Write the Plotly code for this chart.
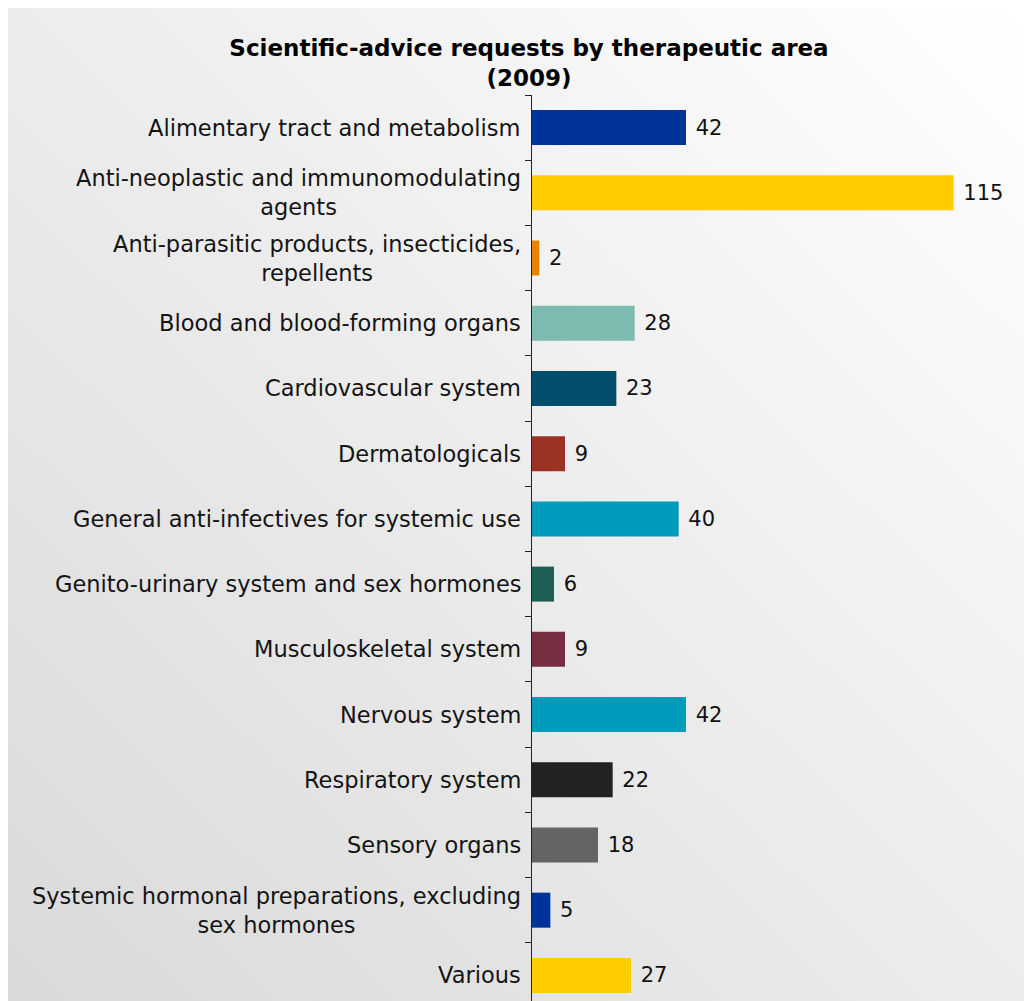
import base64
import plotly.graph_objects as go

categories = [
    "Alimentary tract and metabolism",
    "Anti-neoplastic and immunomodulating<br>agents",
    "Anti-parasitic products, insecticides,<br>repellents",
    "Blood and blood-forming organs",
    "Cardiovascular system",
    "Dermatologicals",
    "General anti-infectives for systemic use",
    "Genito-urinary system and sex hormones",
    "Musculoskeletal system",
    "Nervous system",
    "Respiratory system",
    "Sensory organs",
    "Systemic hormonal preparations, excluding<br>sex hormones",
    "Various",
]
values = [42, 115, 2, 28, 23, 9, 40, 6, 9, 42, 22, 18, 5, 27]
colors = [
    "#003399", "#FFCC00", "#E98300", "#7EBAB0", "#004E6C", "#9A3324", "#009CBC",
    "#1D5F55", "#752F40", "#009CBC", "#222222", "#646464", "#003399", "#FFCC00",
]
title_text = "Scientific-advice requests by therapeutic area<br>(2009)"

ids = list(range(len(categories)))

W, H = 1032, 1001
ML, MR, MT, MB = 524, 13, 87, 1
pw, ph = W - ML - MR, H - MT - MB

fig = go.Figure()
fig.add_trace(go.Bar(
    x=values, y=ids, orientation="h",
    marker=dict(color=colors, line=dict(width=0)),
    text=[str(v) for v in values], textposition="outside",
    texttemplate=" %{text}",
    textfont=dict(family="DejaVu Sans", size=21, color="#111111"),
    cliponaxis=False, hoverinfo="skip",
))

for i, c in enumerate(categories):
    fig.add_annotation(
        x=0, xref="paper", y=i, yref="y", text=c, showarrow=False,
        xanchor="right", yanchor="middle", align="center", xshift=-9,
        font=dict(family="DejaVu Sans", size=22.5, color="#141414"),
    )

svg = ('<svg xmlns="http://www.w3.org/2000/svg" width="100" height="100" '
       'preserveAspectRatio="none"><defs><linearGradient id="g" x1="1" y1="0" x2="0" y2="1">'
       '<stop offset="0" stop-color="#ffffff"/><stop offset="1" stop-color="#d9d9d9"/>'
       '</linearGradient></defs><rect width="100" height="100" fill="url(#g)"/></svg>')
src = "data:image/svg+xml;base64," + base64.b64encode(svg.encode()).decode()

x0 = -ML / pw
x1 = (W - ML) / pw
ytop = (H - MB) / ph
ybot = -MB / ph
fig.add_layout_image(dict(
    source=src, xref="paper", yref="paper", x=x0, y=ytop,
    sizex=x1 - x0, sizey=ytop - ybot, xanchor="left", yanchor="top",
    sizing="stretch", layer="below",
))

fig.update_layout(
    width=W, height=H,
    margin=dict(l=ML, r=MR, t=MT, b=MB, pad=0),
    paper_bgcolor="white", plot_bgcolor="rgba(0,0,0,0)",
    showlegend=False, bargap=0.463,
    title=dict(text=title_text, x=521 / W, xanchor="center", y=1 - 48 / H, yanchor="middle",
               font=dict(family="DejaVu Sans", size=23, color="#000000", weight="bold")),
    xaxis=dict(range=[0, 135], visible=False, fixedrange=True),
    yaxis=dict(
        type="linear", range=[13.5, -0.5], showgrid=False, zeroline=False,
        showticklabels=False, showline=True, linecolor="#222222", linewidth=1,
        tickmode="array", tickvals=[i - 0.5 for i in range(len(categories) + 1)],
        ticks="outside", ticklen=6, tickcolor="#222222", tickwidth=1,
    ),
)

fig.write_html("out.html")
